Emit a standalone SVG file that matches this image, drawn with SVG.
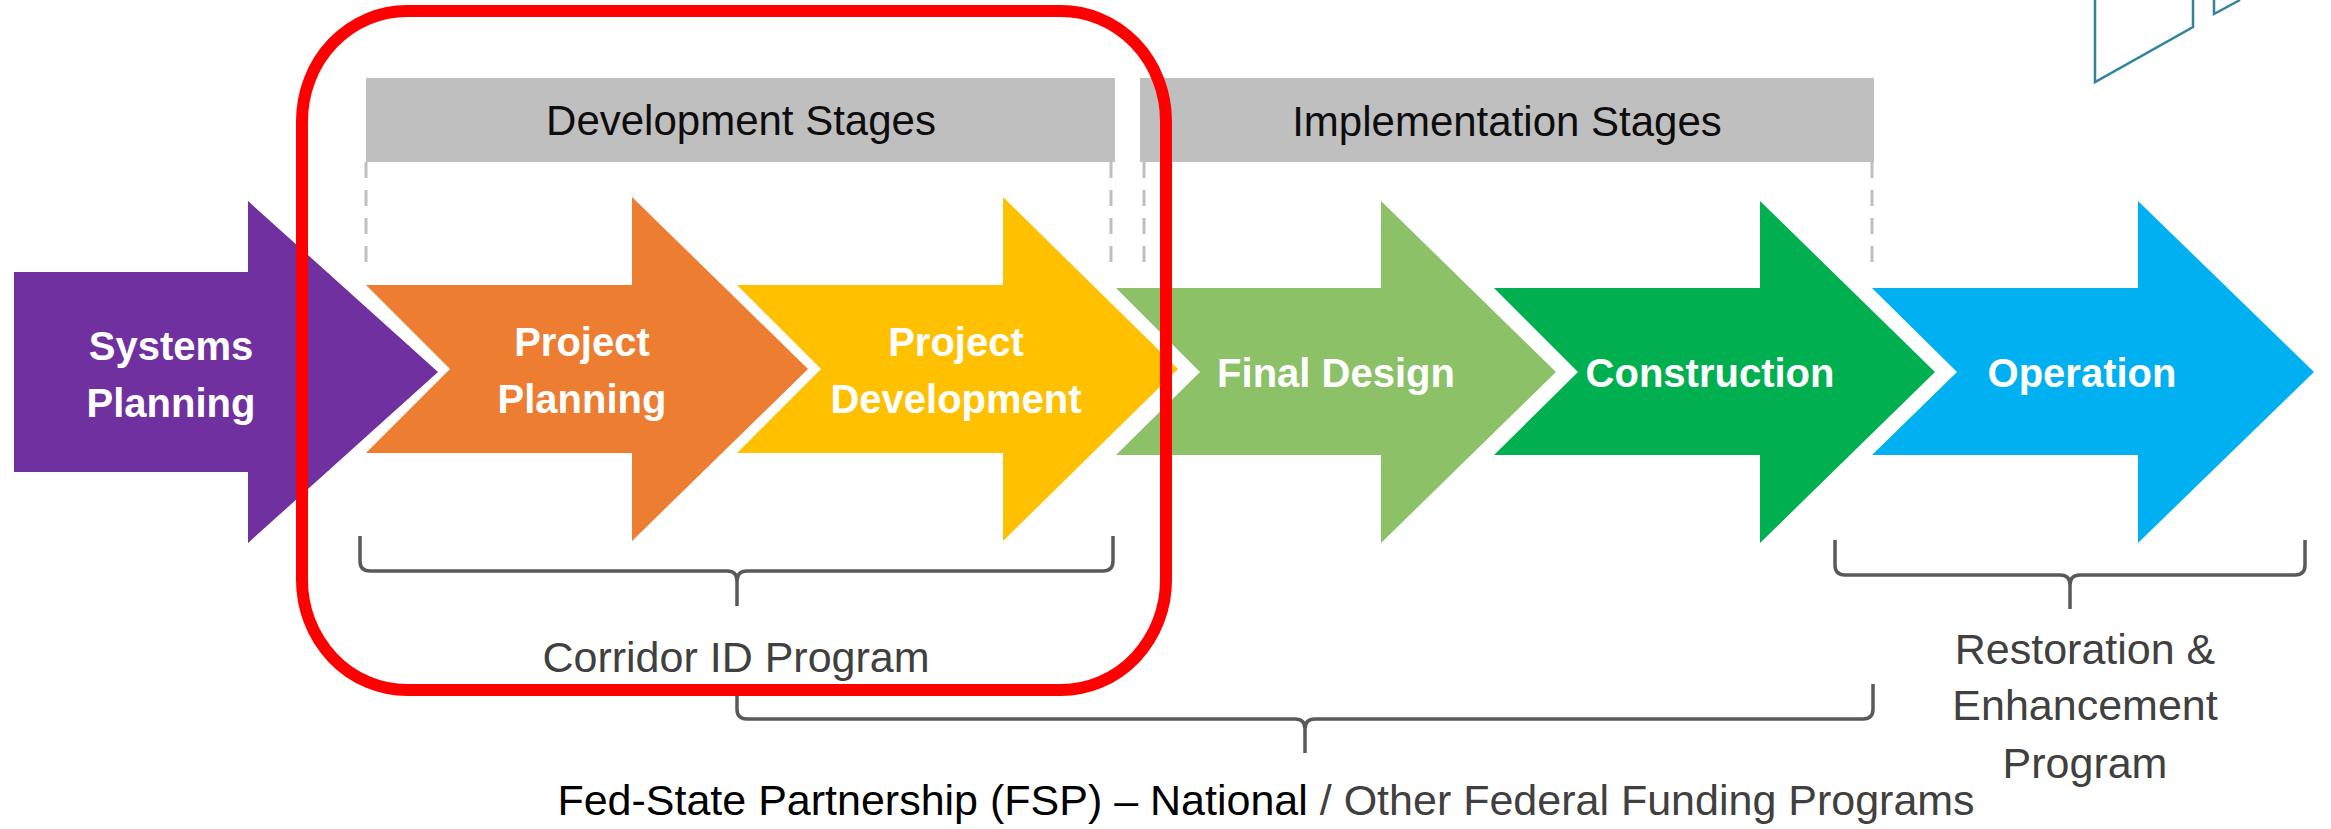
<svg xmlns="http://www.w3.org/2000/svg" width="2331" height="829" viewBox="0 0 2331 829">
<style>
.lbl{font-family:"Liberation Sans",Arial,sans-serif;font-weight:bold;font-size:40px;fill:#ffffff;text-anchor:middle}
.hdr{font-family:"Liberation Sans",Arial,sans-serif;font-size:42px;fill:#0d0d0d;text-anchor:middle}
.prg{font-family:"Liberation Sans",Arial,sans-serif;font-size:43px;fill:#404040;text-anchor:middle}
.bar{fill:#bfbfbf}
.dash{stroke:#bfbfbf;stroke-width:3;stroke-dasharray:16 12;fill:none}
.brace{stroke:#595959;stroke-width:3.5;fill:none;stroke-linejoin:round}
</style>
<rect width="2331" height="829" fill="#ffffff"/>
<g id="corner-deco" fill="none" stroke="#31849b" stroke-width="2.5">
<path d="M2095,0 V82 L2193,27 V0"/>
<path d="M2214,0 V14 L2240,0"/>
</g>
<g id="development-stages">
<rect class="bar" x="366" y="78" width="749" height="84"/>
<text class="hdr" x="741" y="135">Development Stages</text>
<path class="dash" d="M366,162 V262 M1111,162 V262"/>
</g>
<g id="implementation-stages">
<rect class="bar" x="1140" y="78" width="734" height="84"/>
<text class="hdr" x="1507" y="136">Implementation Stages</text>
<path class="dash" d="M1144,162 V262 M1872,162 V272"/>
</g>
<g id="systems-planning">
<path fill="#7030a0" d="M14,272 H248 V201 L438,372 L248,543 V472 H14 Z"/>
<text class="lbl" x="171" y="360">Systems</text>
<text class="lbl" x="171" y="417">Planning</text>
</g>
<g id="project-planning">
<path fill="#ed7d31" d="M366,285 H632 V197 L808,369 L632,541 V453 H366 L450,369 Z"/>
<text class="lbl" x="582" y="356">Project</text>
<text class="lbl" x="582" y="413">Planning</text>
</g>
<g id="project-development">
<path fill="#ffc000" d="M737,285 H1003 V197 L1178,369 L1003,541 V453 H737 L821,369 Z"/>
<text class="lbl" x="956" y="356">Project</text>
<text class="lbl" x="956" y="413">Development</text>
</g>
<g id="final-design">
<path fill="#8cc168" d="M1116,288 H1381 V201 L1556,372 L1381,543 V455 H1116 L1200,372 Z"/>
<text class="lbl" x="1336" y="387">Final Design</text>
</g>
<g id="construction">
<path fill="#00b050" d="M1494,288 H1760 V201 L1935,372 L1760,543 V455 H1494 L1578,372 Z"/>
<text class="lbl" x="1710" y="387">Construction</text>
</g>
<g id="operation">
<path fill="#00b0f0" d="M1872,288 H2138 V201 L2314,372 L2138,543 V455 H1872 L1957,372 Z"/>
<text class="lbl" x="2082" y="387">Operation</text>
</g>
<g id="connectors">
<path class="brace" d="M360,536 V561 Q360,571 370,571 H727 Q737,571 737,581 V606 M737,581 Q737,571 747,571 H1103 Q1113,571 1113,561 V536"/>
<path class="brace" d="M737,684 V709 Q737,719 747,719 H1295 Q1305,719 1305,729 V753 M1305,729 Q1305,719 1315,719 H1863 Q1873,719 1873,709 V684"/>
<path class="brace" d="M1835,540 V565 Q1835,575 1845,575 H2060 Q2070,575 2070,585 V609 M2070,585 Q2070,575 2080,575 H2295 Q2305,575 2305,565 V540"/>
</g>
<g id="corridor-id-program">
<text class="prg" x="736" y="672">Corridor ID Program</text>
</g>
<g id="restoration-program">
<text class="prg" x="2085" y="664">Restoration &amp;</text>
<text class="prg" x="2085" y="720">Enhancement</text>
<text class="prg" x="2085" y="778">Program</text>
</g>
<g id="fsp-program">
<text class="prg" x="1266" y="815"><tspan fill="#000000">Fed-State Partnership (FSP) – National</tspan> / Other Federal Funding Programs</text>
</g>
<g id="highlight">
<rect x="302" y="11" width="864" height="679" rx="105" ry="110" fill="none" stroke="#ff0000" stroke-width="12"/>
</g>
</svg>
